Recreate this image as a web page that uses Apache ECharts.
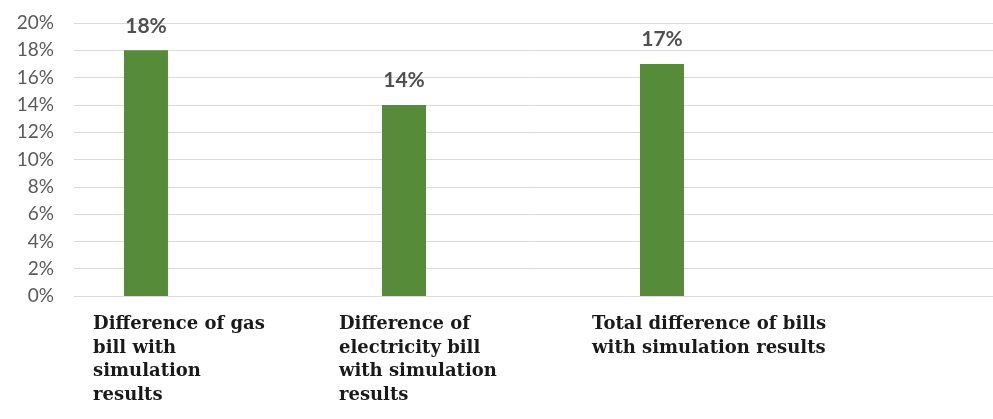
<!DOCTYPE html>
<html>
<head>
<meta charset="utf-8">
<script src="https://cdn.jsdelivr.net/npm/echarts@6/dist/echarts.min.js"></script>
<style>
  html, body { margin: 0; padding: 0; background: #fff; }
  #chart { width: 993px; height: 419px; }
</style>
</head>
<body>
<div id="chart"></div>
<script>
// categories, wrapped the way the picture wraps them
const categories = [
    'Difference of gas\nbill with\nsimulation\nresults',
    'Difference of\nelectricity bill\nwith simulation\nresults',
    'Total difference of bills\nwith simulation results'
]
const values = [18, 14, 17] // percent
const yTicks = [0, 2, 4, 6, 8, 10, 12, 14, 16, 18, 20]

const chartDom = document.getElementById('chart')
const myChart = echarts.init(chartDom)

// bars sit on a value axis so the plot can start left of the first category
const labelShift = [0.205, 0.252, 0.271] // labels start a bit left of each bar

const option = {
    animation: false,
    grid: { left: 74, right: 0, top: 23, bottom: 123 },
    xAxis: {
        type: 'value',
        min: -0.279,
        max: 3.283,
        splitLine: { show: false },
        axisLine: { show: false },
        axisTick: { show: false },
        axisLabel: {
            customValues: categories.map((c, i) => i - labelShift[i]),
            formatter: function (v) {
                const i = categories.findIndex((c, k) => Math.abs(k - labelShift[k] - v) < 0.01)
                return i >= 0 ? categories[i] : ''
            },
            align: 'left',
            verticalAlign: 'top',
            margin: 17,
            fontFamily: 'DejaVu Serif',
            fontWeight: 'bold',
            fontSize: 18,
            lineHeight: 23.5,
            color: '#1a1a1a'
        }
    },
    yAxis: {
        type: 'value',
        min: yTicks[0],
        max: yTicks[yTicks.length - 1],
        interval: 2,
        axisLine: { show: false },
        axisTick: { show: false },
        splitLine: { lineStyle: { color: '#d9d9d9', width: 1 } },
        axisLabel: {
            formatter: '{value}%',
            margin: 20,
            fontFamily: 'Lato',
            fontSize: 19,
            color: '#5a5a5a'
        }
    },
    series: [
        {
            type: 'bar',
            data: values.map((v, i) => [i, v]),
            barWidth: 44,
            itemStyle: { color: '#568b3a' },
            label: {
                show: true,
                position: 'top',
                distance: 14,
                formatter: p => p.value[1] + '%',
                fontFamily: 'Lato',
                fontWeight: 'bold',
                fontSize: 21,
                color: '#505050'
            }
        }
    ]
}

option && myChart.setOption(option)
</script>
</body>
</html>
